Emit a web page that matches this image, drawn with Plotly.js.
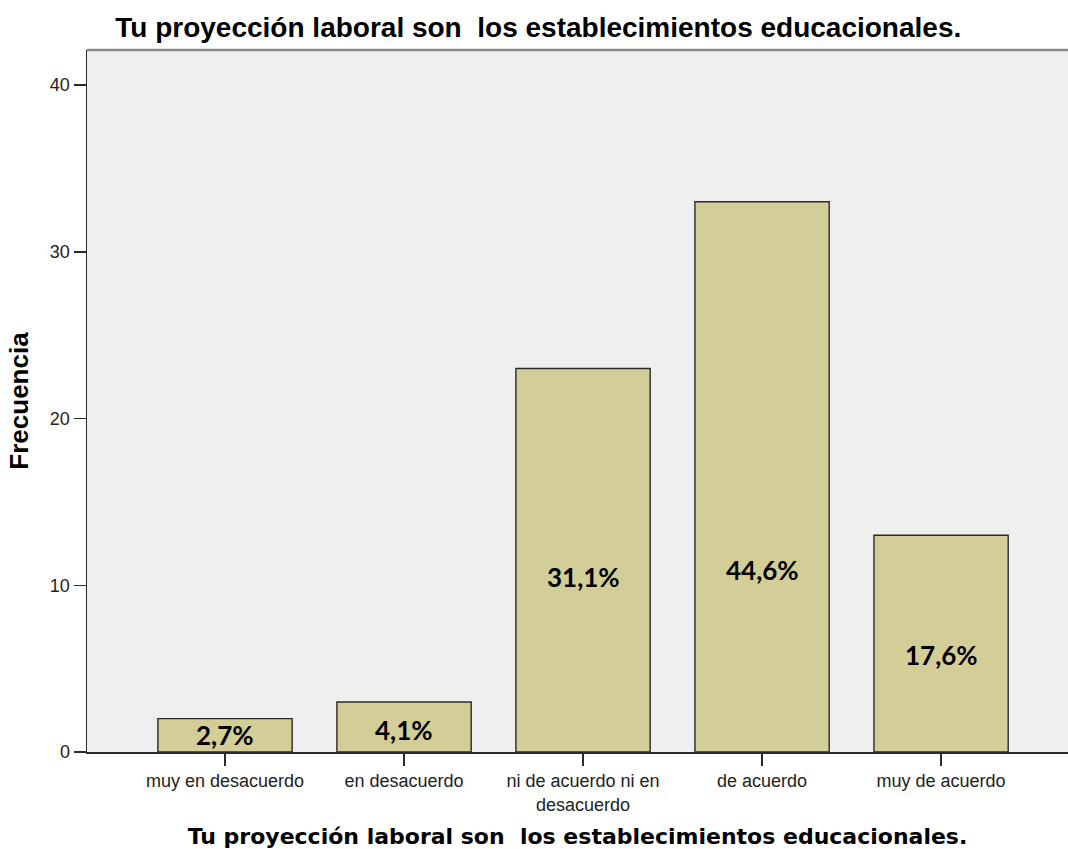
<!DOCTYPE html>
<html>
<head>
<meta charset="utf-8">
<script src="https://cdn.plot.ly/plotly-3.0.1.min.js"></script>
<style>html,body{margin:0;padding:0;background:#fff;}#chart{width:1068px;height:849px;}</style>
</head>
<body>
<div id="chart"></div>
<script>
const categories = ["muy en desacuerdo", "en desacuerdo", "ni de acuerdo ni en<br>desacuerdo", "de acuerdo", "muy de acuerdo"];
const frecuencia = [2, 3, 23, 33, 13];
const porcentajes = ["2,7%", "4,1%", "31,1%", "44,6%", "17,6%"];
const labelY = [1.0, 1.3, 10.5, 10.9, 5.8];

const xIdx = categories.map((c, i) => i);

const trace = {
  type: "bar",
  x: xIdx,
  y: frecuencia,
  width: 0.75,
  marker: { color: "#d3ce97", line: { color: "#2a2a2a", width: 1.4 } },
  hoverinfo: "skip"
};

const annotations = porcentajes.map((p, i) => ({
  x: i, y: labelY[i], xref: "x", yref: "y",
  text: "<b>" + p + "</b>", showarrow: false,
  font: { family: "Lato, 'Open Sans', sans-serif", size: 26, color: "#000" }
}));

const layout = {
  width: 1068, height: 849,
  margin: { l: 87, r: 0, t: 50, b: 97 },
  paper_bgcolor: "#ffffff",
  plot_bgcolor: "#efefef",
  showlegend: false,
  title: {
    text: "<b>Tu proyección laboral son  los establecimientos educacionales.</b>",
    font: { family: "'Liberation Sans', Arial, sans-serif", size: 28, color: "#000" },
    x: 0.504, xanchor: "center", y: 0.968, yanchor: "middle"
  },
  xaxis: {
    tickmode: "array", tickvals: xIdx, ticktext: categories,
    range: [-0.771, 4.709],
    showline: true, linecolor: "#2a2a2a", linewidth: 1.5,
    ticks: "outside", ticklen: 12, tickwidth: 1.5, tickcolor: "#2a2a2a",
    showgrid: false, zeroline: false,
    tickfont: { family: "'Liberation Sans', Arial, sans-serif", size: 18, color: "#222" },
    title: {
      text: "<b>Tu proyección laboral son  los establecimientos educacionales.</b>",
      font: { family: "'DejaVu Sans', Verdana, sans-serif", size: 22, color: "#000" },
      standoff: 20
    }
  },
  yaxis: {
    range: [0, 42.1],
    tickvals: [0, 10, 20, 30, 40],
    showline: true, linecolor: "#2a2a2a", linewidth: 1.5,
    ticks: "outside", ticklen: 12, tickwidth: 1.5, tickcolor: "#2a2a2a",
    showgrid: false, zeroline: false,
    tickfont: { family: "'Liberation Sans', Arial, sans-serif", size: 18, color: "#222" },
    title: {
      text: "<b>Frecuencia</b>",
      font: { family: "'Liberation Sans', Arial, sans-serif", size: 26, color: "#000" },
      standoff: 14
    }
  },
  shapes: [{
    type: "line", xref: "paper", yref: "paper", x0: 0, x1: 1, y0: 1, y1: 1,
    line: { color: "#8a8a8a", width: 2.5 }
  }],
  annotations: annotations
};

Plotly.newPlot("chart", [trace], layout, { displayModeBar: false, staticPlot: true });
</script>
</body>
</html>
